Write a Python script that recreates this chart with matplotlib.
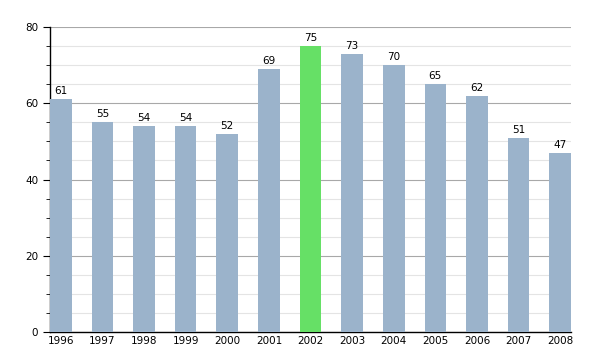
import matplotlib.pyplot as plt
from matplotlib.ticker import MultipleLocator

years = ["1996", "1997", "1998", "1999", "2000", "2001", "2002",
         "2003", "2004", "2005", "2006", "2007", "2008"]
values = [61, 55, 54, 54, 52, 69, 75, 73, 70, 65, 62, 51, 47]
highlight = "2002"

fig = plt.figure(figsize=(6, 3.5), dpi=100)
ax = fig.add_axes([50 / 600, 18 / 350, 521 / 600, 305 / 350])

x = list(range(len(years)))
colors = ["#66e066" if y == highlight else "#9bb3cb" for y in years]
width = 0.52
ax.bar(x, values, width=width, color=colors, zorder=3)

for xi, v in zip(x, values):
    ax.text(xi, v + 0.8, str(v), ha="center", va="bottom", fontsize=7.5, zorder=4)

ax.set_xlim(-width / 2, len(years) - 1 + width / 2)
ax.set_ylim(0, 80)
ax.set_xticks(x)
ax.set_xticklabels(years)
ax.yaxis.set_major_locator(MultipleLocator(20))
ax.yaxis.set_minor_locator(MultipleLocator(5))

ax.grid(axis="y", which="major", color="#a8a8a8", linewidth=0.8, zorder=1)
ax.grid(axis="y", which="minor", color="#e4e4e4", linewidth=0.8, zorder=1)

for side in ("top", "right"):
    ax.spines[side].set_visible(False)
ax.spines["left"].set_linewidth(1.0)
ax.spines["bottom"].set_linewidth(1.0)
ax.tick_params(axis="x", length=0, labelsize=7.5, pad=3)
ax.tick_params(axis="y", which="major", length=5, labelsize=7.5)
ax.tick_params(axis="y", which="minor", length=3)

fig.savefig("out.png", dpi=100)
